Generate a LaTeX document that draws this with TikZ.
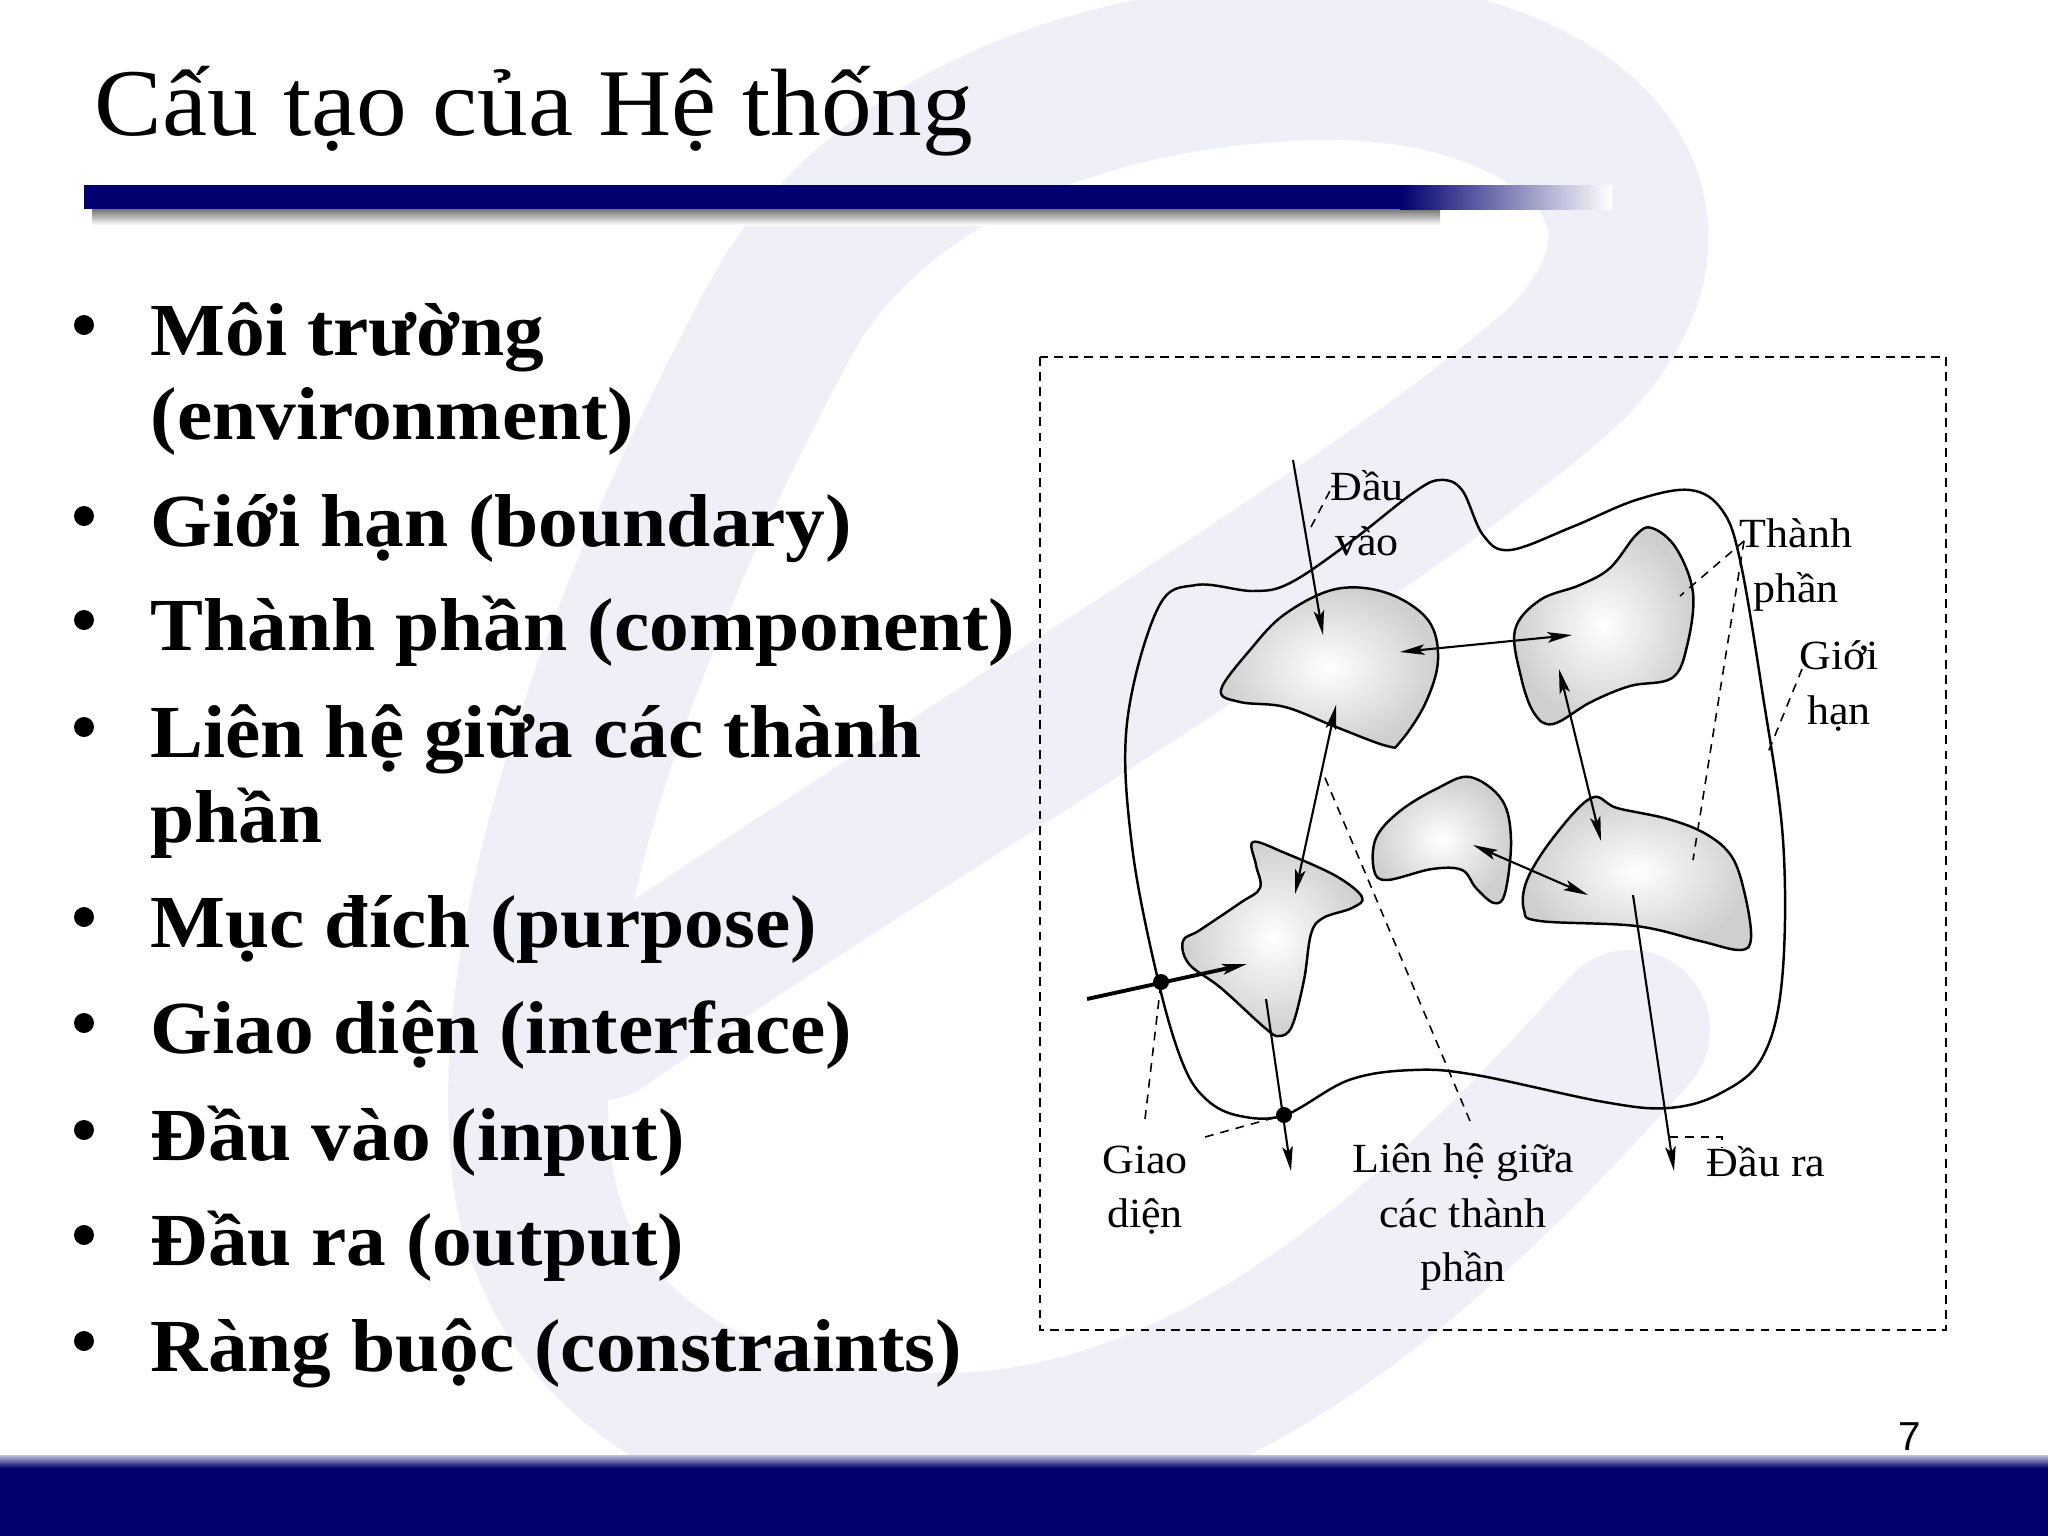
\documentclass[tikz,border=0pt]{standalone}
\usepackage{fontspec}
\setmainfont{Liberation Serif}[FakeStretch=1.06]
\setsansfont{Liberation Sans}
\usetikzlibrary{arrows.meta}
\definecolor{navy}{RGB}{0,0,110}
\definecolor{wmark}{RGB}{239,239,247}
\tikzset{
  comp/.style={draw=black, line width=0.7pt, inner color=white, outer color=black!19},
  leader/.style={dash pattern=on 2.5pt off 2pt, line width=0.45pt},
  flow/.style={line width=0.6pt, -{Stealth[length=7pt,width=3pt,inset=1.5pt]}},
  twoway/.style={line width=0.6pt, {Stealth[length=7pt,width=3pt,inset=1.5pt]}-{Stealth[length=7pt,width=3pt,inset=1.5pt]}},
  lbl/.style={font=\fontsize{11.8}{15.5}\selectfont, align=center, inner sep=0pt},
  itemtext/.style={anchor=base west, inner sep=0pt, font=\fontsize{21.3}{25}\selectfont\bfseries},
}
\begin{document}
\begin{tikzpicture}[x=0.01cm,y=-0.01cm]
	\useasboundingbox (0,0) rectangle (2048,1536);
	% background mark
	\draw[wmark, line width=1.6cm, line cap=round] (600,1020) .. controls (900,810) and (1400,520) .. (1570,360)
		.. controls (1720,200) and (1560,60) .. (1330,60) .. controls (1060,62) and (860,170) .. (780,320)
		.. controls (650,560) and (510,900) .. (530,1150) .. controls (550,1400) and (800,1470) .. (1000,1450)
		.. controls (1250,1420) and (1450,1230) .. (1630,1030);
	% title and bars
	\shade[top color=black!55, bottom color=white] (92,209) rectangle (1440,225);
	\fill[navy] (84,185) rectangle (1400,209);
	\shade[left color=navy, right color=white] (1400,185) rectangle (1612,209);
	\shade[top color=navy!25, bottom color=navy] (0,1455) rectangle (2048,1468);
	\fill[navy] (0,1468) rectangle (2048,1536);
	\node[anchor=base west, inner sep=0pt, font=\fontsize{27.2}{32}\selectfont] (title) at (94,135) {Cấu tạo của Hệ thống};
	\node[anchor=base east, inner sep=0pt, font=\sffamily\fontsize{11.5}{14}\selectfont] (pageno) at (1922,1450) {7};
	% bullet list
	\node[itemtext] (l1) at (150,355) {Môi trường};
	\node[itemtext] (l1b) at (150,439) {(environment)};
	\node[itemtext] (l2) at (150,546) {Giới hạn (boundary)};
	\node[itemtext] (l3) at (150,650) {Thành phần (component)};
	\node[itemtext] (l4) at (150,757) {Liên hệ giữa các thành};
	\node[itemtext] (l4b) at (150,842) {phần};
	\node[itemtext] (l5) at (150,947) {Mục đích (purpose)};
	\node[itemtext] (l6) at (150,1053) {Giao diện (interface)};
	\node[itemtext] (l7) at (150,1160) {Đầu vào (input)};
	\node[itemtext] (l8) at (150,1265) {Đầu ra (output)};
	\node[itemtext] (l9) at (150,1371) {Ràng buộc (constraints)};
	\fill (84,325) circle (10);
	\fill (84,516) circle (10);
	\fill (84,620) circle (10);
	\fill (84,727) circle (10);
	\fill (84,917) circle (10);
	\fill (84,1023) circle (10);
	\fill (84,1130) circle (10);
	\fill (84,1235) circle (10);
	\fill (84,1341) circle (10);
	% diagram frame
	\draw[dash pattern=on 2.5pt off 1.8pt, line width=0.5pt] (1040,357) rectangle (1946,1330);
	% boundary
	\draw[line width=0.7pt] plot[smooth cycle, tension=0.6] coordinates {(1158,608) (1196,585) (1253,591) (1290,583) (1349,543) (1413,493) (1440,480) (1462,490) (1483,535) (1510,550) (1572,527) (1636,500) (1690,490) (1722,510) (1740,560) (1762,690) (1783,840) (1782,980) (1762,1058) (1719,1094) (1668,1108) (1604,1102) (1476,1075) (1413,1070) (1349,1080) (1285,1115) (1240,1116) (1207,1100) (1183,1064) (1158,980) (1132,846) (1127,723)};
	% components
	\shade[comp] plot[smooth cycle, tension=0.6] coordinates {(1221,690) (1250,650) (1285,614) (1336,589) (1387,593) (1428,620) (1438,660) (1425,704) (1400,742) (1387,746) (1336,727) (1285,707) (1240,702)};
	\shade[comp] plot[smooth cycle, tension=0.6] coordinates {(1515,630) (1540,600) (1580,585) (1610,568) (1636,535) (1652,528) (1676,548) (1693,593) (1687,646) (1672,678) (1630,686) (1591,702) (1553,724) (1534,713) (1521,677)};
	\shade[comp] plot[smooth cycle, tension=0.6] coordinates {(1470,777) (1502,800) (1511,840) (1505,893) (1494,903) (1476,888) (1462,870) (1432,869) (1387,880) (1374,870) (1376,838) (1400,811) (1438,788)};
	\shade[comp] plot[smooth cycle, tension=0.6] coordinates {(1591,798) (1617,808) (1668,819) (1706,834) (1732,857) (1745,895) (1751,938) (1740,950) (1700,941) (1636,926) (1540,921) (1524,910) (1527,880) (1553,838)};
	\shade[comp] plot[smooth cycle, tension=0.6] coordinates {(1253,842) (1285,853) (1336,876) (1362,897) (1352,908) (1323,918) (1311,934) (1304,980) (1292,1026) (1279,1036) (1265,1028) (1221,988) (1189,964) (1183,941) (1200,930) (1240,903) (1260,888) (1256,865)};
	% arrow ends
	\coordinate (in0) at (1293,460);
	\coordinate (in1) at (1323,635);
	\coordinate (c1r) at (1400,652);
	\coordinate (c2l) at (1572,635);
	\coordinate (c1b) at (1336,705);
	\coordinate (c5t) at (1295,894);
	\coordinate (c2b) at (1559,669);
	\coordinate (c4t) at (1601,841);
	\coordinate (c3r) at (1473,845);
	\coordinate (c4l) at (1588,895);
	\coordinate (if0) at (1087,999);
	\coordinate (if1) at (1247,964);
	\coordinate (out0) at (1266,999);
	\coordinate (out1) at (1291,1171);
	\coordinate (out2) at (1633,895);
	\coordinate (out3) at (1674,1171);
	\coordinate (dotA) at (1161,982);
	\coordinate (dotB) at (1284,1115);
	% flows
	\draw[flow] (in0) -- (in1);
	\draw[twoway] (c1r) -- (c2l);
	\draw[twoway] (c1b) -- (c5t);
	\draw[twoway] (c2b) -- (c4t);
	\draw[twoway] (c3r) -- (c4l);
	\draw[flow, line width=1.1pt] (if0) -- (if1);
	\draw[flow] (out0) -- (out1);
	\draw[flow] (out2) -- (out3);
	\fill (dotA) circle (8);
	\fill (dotB) circle (8);
	% labels
	\node[lbl] (dauvao) at (1367,513) {Đầu\\vào};
	\node[lbl] (thanhphan) at (1796,565) {Thành\\phần};
	\node[lbl] (gioihan) at (1839,686) {Giới\\hạn};
	\node[lbl] (giaodien) at (1145,1190) {Giao\\diện};
	\node[lbl] (lienhe) at (1463,1217) {Liên hệ giữa\\các thành\\phần};
	\node[lbl] (daura) at (1766,1162) {Đầu ra};
	% leaders
	\coordinate (dvA) at (1311,527);
	\coordinate (dvB) at (1333,485);
	\coordinate (tpA) at (1744,541);
	\coordinate (tpB) at (1680,596);
	\coordinate (tpC) at (1693,860);
	\coordinate (ghA) at (1802,669);
	\coordinate (ghB) at (1767,755);
	\coordinate (gdA) at (1145,1119);
	\coordinate (gdB) at (1205,1137);
	\coordinate (lhA) at (1470,1121);
	\coordinate (lhB) at (1323,773);
	\coordinate (drA) at (1669,1137);
	\coordinate (drB) at (1722,1137);
	\coordinate (drC) at (1722,1148);
	\draw[leader] (dvA) -- (dvB);
	\draw[leader] (tpA) -- (tpB);
	\draw[leader] (tpA) -- (tpC);
	\draw[leader] (ghA) -- (ghB);
	\draw[leader] (gdA) -- (dotA);
	\draw[leader] (gdB) -- (dotB);
	\draw[leader] (lhA) -- (lhB);
	\draw[leader] (drA) -- (drB) -- (drC);
\end{tikzpicture}
\end{document}
